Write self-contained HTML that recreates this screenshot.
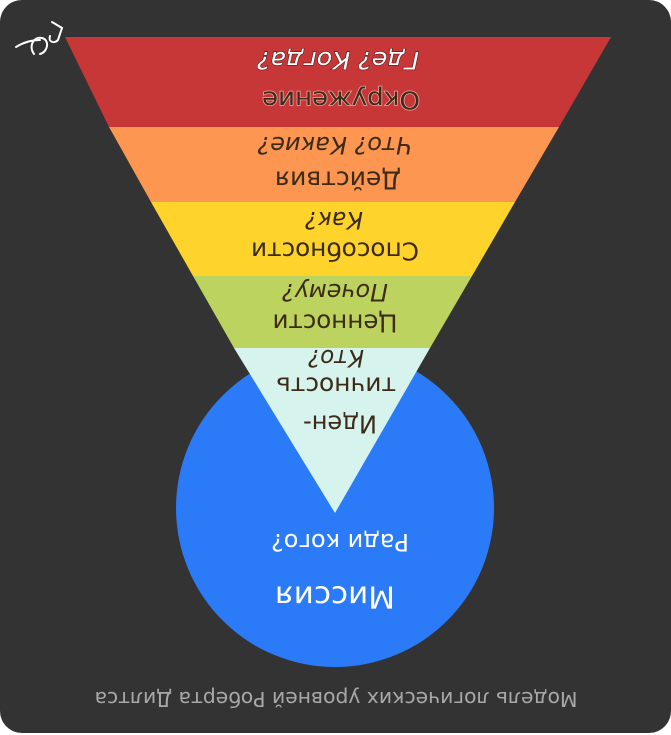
<!DOCTYPE html>
<html><head><meta charset="utf-8"><style>
html,body{margin:0;padding:0;background:#fff;}
svg{display:block;}
text{font-family:"DejaVu Sans","Liberation Sans",sans-serif;text-anchor:middle;dominant-baseline:central;}
</style></head><body>
<svg width="671" height="735" viewBox="0 0 671 735" xmlns="http://www.w3.org/2000/svg">
<rect x="0" y="0" width="671" height="733" rx="22" fill="#333333"/>
<circle cx="335" cy="508" r="159" fill="#2b7bf8"/>
<polygon points="65,37 611,37 559,127 109,127" fill="#c73737"/>
<polygon points="109,127 559,127 515,202 151,202" fill="#fc9650"/>
<polygon points="151,202 515,202 472,276 193,276" fill="#fed32c"/>
<polygon points="193,276 472,276 430,348 234,348" fill="#bcd35f"/>
<polygon points="234,348 430,348 335,513" fill="#d6f3ee"/>
<g fill="#3d2a17" lengthAdjust="spacingAndGlyphs">
<text x="341" y="100" font-size="25" textLength="158" lengthAdjust="spacingAndGlyphs" transform="rotate(180 341 100)" style="paint-order:stroke" stroke="#eaa8a8" stroke-width="1.5">Окружение</text>
<text x="338" y="60" font-size="24" font-style="italic" fill="#fff" textLength="162" lengthAdjust="spacingAndGlyphs" transform="rotate(180 338 60)" style="paint-order:stroke" stroke="#5a1a1a" stroke-width="1.2">Где? Когда?</text>
<text x="338" y="180" font-size="25" textLength="126" lengthAdjust="spacingAndGlyphs" transform="rotate(180 338 180)">Действия</text>
<text x="335" y="145" font-size="24" font-style="italic" textLength="155" lengthAdjust="spacingAndGlyphs" transform="rotate(180 335 145)">Что? Какие?</text>
<text x="335" y="251" font-size="25" textLength="168" lengthAdjust="spacingAndGlyphs" transform="rotate(180 335 251)">Способности</text>
<text x="334" y="220" font-size="24" font-style="italic" textLength="58" lengthAdjust="spacingAndGlyphs" transform="rotate(180 334 220)">Как?</text>
<text x="335" y="323" font-size="25" textLength="125" lengthAdjust="spacingAndGlyphs" transform="rotate(180 335 323)">Ценности</text>
<text x="335" y="292" font-size="24" font-style="italic" textLength="106" lengthAdjust="spacingAndGlyphs" transform="rotate(180 335 292)">Почему?</text>
<text x="340" y="424" font-size="25" textLength="74" lengthAdjust="spacingAndGlyphs" transform="rotate(180 340 424)">Иден-</text>
<text x="336" y="386" font-size="25" textLength="120" lengthAdjust="spacingAndGlyphs" transform="rotate(180 336 386)">тичность</text>
<text x="336" y="358" font-size="24" font-style="italic" textLength="56" lengthAdjust="spacingAndGlyphs" transform="rotate(180 336 358)">Кто?</text>
</g>
<text x="335" y="596" font-size="30" fill="#fff" textLength="120" lengthAdjust="spacingAndGlyphs" transform="rotate(180 335 596)">Миссия</text>
<text x="340" y="542" font-size="24" fill="#fff" textLength="138" lengthAdjust="spacingAndGlyphs" transform="rotate(180 340 542)">Ради кого?</text>
<text x="336" y="699" font-size="20" fill="#a8a8a8" textLength="483" lengthAdjust="spacingAndGlyphs" transform="rotate(180 336 699)">Модель логических уровней Роберта Дилтса</text>
<g stroke="#fff" stroke-width="2" fill="none" stroke-linecap="round">
<path d="M16,47 C24,42 32,40 40,40"/>
<path d="M34,54 C28,46 34,36 42,38 C50,40 48,52 40,54"/>
<path d="M52,22 L62,28 L58,40 C54,44 48,42 50,36"/>
</g>
</svg>
</body></html>
